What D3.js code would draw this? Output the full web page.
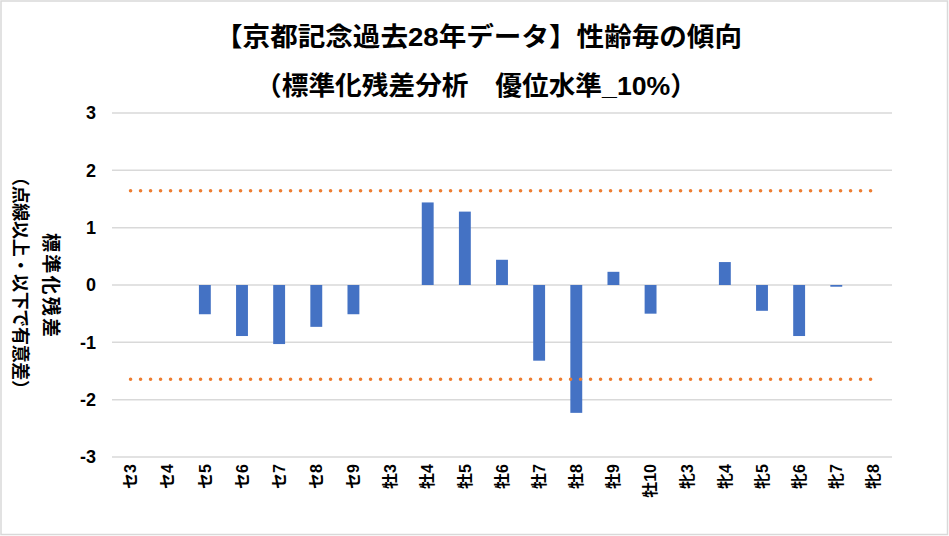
<!DOCTYPE html>
<html>
<head>
<meta charset="utf-8">
<script src="https://cdn.jsdelivr.net/npm/d3@7"></script>
<style>
  html, body { margin: 0; padding: 0; background: #fff; }
  svg { display: block; }
  text { font-family: "Liberation Sans", Arial, "Noto Sans CJK JP", sans-serif; font-weight: bold; fill: #000; }
</style>
</head>
<body>
<svg id="chart" width="949" height="536"></svg>
<script>
const categories = ["セ3","セ4","セ5","セ6","セ7","セ8","セ9","牡3","牡4","牡5","牡6","牡7","牡8","牡9","牡10","牝3","牝4","牝5","牝6","牝7","牝8"];
const residuals = [0, 0, -0.51, -0.89, -1.03, -0.73, -0.51, 0, 1.44, 1.28, 0.44, -1.32, -2.23, 0.23, -0.50, 0, 0.40, -0.45, -0.89, -0.03, 0];
const yTicks = [3, 2, 1, 0, -1, -2, -3];
const thresholds = [1.645, -1.645];
const titleLines = ["【京都記念過去28年データ】性齢毎の傾向", "（標準化残差分析　優位水準_10%）"];
const yTitleLines = ["標準化残差", "（点線以上・以下で有意差）"];

const svg = d3.select("#chart");
const W = 949, H = 536;
const plotL = 112, plotR = 892, plotT = 113, plotB = 457;

svg.append("rect").attr("x", 0).attr("y", 0).attr("width", W).attr("height", H).attr("fill", "#fff");
svg.append("rect").attr("x", 1).attr("y", 1).attr("width", 946.5).attr("height", 533.5)
  .attr("fill", "none").attr("stroke", "#d9d9d9").attr("stroke-width", 1.5);

const x = d3.scaleBand().domain(categories).range([plotL, plotR]).paddingInner(0.68).paddingOuter(0.34);
const y = d3.scaleLinear().domain([-3, 3]).range([plotB, plotT]);

// gridlines
svg.append("g").selectAll("line").data(yTicks).join("line")
  .attr("x1", plotL).attr("x2", plotR)
  .attr("y1", d => y(d)).attr("y2", d => y(d))
  .attr("stroke", "#d9d9d9").attr("stroke-width", 1.5);

// y tick labels
svg.append("g").selectAll("text").data(yTicks).join("text")
  .attr("x", 96).attr("y", d => y(d)).attr("dy", "0.36em")
  .attr("text-anchor", "end").attr("font-size", 18)
  .text(d => d);

// bars
svg.append("g").selectAll("rect").data(categories).join("rect")
  .attr("x", d => x(d))
  .attr("width", x.bandwidth())
  .attr("y", (d, i) => y(Math.max(0, residuals[i])))
  .attr("height", (d, i) => Math.abs(y(residuals[i]) - y(0)))
  .attr("fill", "#4472c4");

// threshold dotted lines
const xFirst = x(categories[0]) + x.bandwidth() / 2;
const xLast = x(categories[categories.length - 1]) + x.bandwidth() / 2;
svg.append("g").selectAll("line").data(thresholds).join("line")
  .attr("x1", xFirst).attr("x2", xLast)
  .attr("y1", d => y(d)).attr("y2", d => y(d))
  .attr("stroke", "#ed7d31").attr("stroke-width", 3.6)
  .attr("stroke-linecap", "round").attr("stroke-dasharray", "0 10");

// x labels
svg.append("g").selectAll("text").data(categories).join("text")
  .attr("transform", d => `translate(${x(d) + x.bandwidth() / 2},464) rotate(-90)`)
  .attr("text-anchor", "end").attr("dy", "0.36em").attr("font-size", 16)
  .text(d => d);

// title
svg.append("text").attr("x", 478.5).attr("y", 46).attr("text-anchor", "middle")
  .attr("font-size", 26).attr("textLength", 527).attr("lengthAdjust", "spacingAndGlyphs")
  .text(titleLines[0]);
svg.append("text").attr("x", 476).attr("y", 95).attr("text-anchor", "middle")
  .attr("font-size", 26).attr("textLength", 442).attr("lengthAdjust", "spacingAndGlyphs")
  .text(titleLines[1]);

// y axis title
svg.append("text").attr("transform", "translate(51,285) rotate(90)")
  .attr("text-anchor", "middle").attr("dy", "0.36em").attr("font-size", 19)
  .attr("textLength", 104).attr("lengthAdjust", "spacing")
  .text(yTitleLines[0]);
svg.append("text").attr("transform", "translate(20,283) rotate(90)")
  .attr("text-anchor", "middle").attr("dy", "0.36em").attr("font-size", 18)
  .attr("textLength", 230).attr("lengthAdjust", "spacing")
  .text(yTitleLines[1]);
</script>
</body>
</html>
